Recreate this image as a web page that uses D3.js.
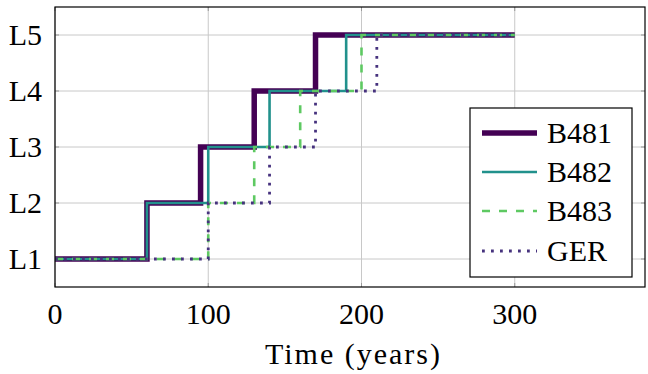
<!DOCTYPE html>
<html><head><meta charset="utf-8">
<script src="https://cdn.jsdelivr.net/npm/d3@7"></script>
</head><body style="margin:0;background:#fff">
<svg id="c" width="648" height="374" style="display:block" font-family="Liberation Serif, Times New Roman, Tinos, serif"></svg>
<script>
const levelLabels = ["L1","L2","L3","L4","L5"];
const xTicks = [0,100,200,300];
const seriesNames = ["B481","B482","B483","GER"];
const b481Times = [0,60,95,130,170,300];
const b482Times = [0,60,100,140,190,300];
const b483Times = [0,100,130,160,200,300];
const gerTimes  = [0,100,140,170,210,300];
const levelValues = [1,2,3,4,5,5];

const svg = d3.select("#c");
const L=55,R=645,T=7,B=287;
const FS=30;
const x = d3.scaleLinear().domain([0,385]).range([L,R]);
const y = d3.scaleLinear().domain([0.5,5.5]).range([B,T]);

svg.append("g").selectAll("line").data(xTicks).join("line")
  .attr("x1",d=>x(d)).attr("x2",d=>x(d)).attr("y1",T).attr("y2",B)
  .attr("stroke","#c8c8c8").attr("stroke-width",1);
svg.append("g").selectAll("line").data(levelLabels).join("line")
  .attr("x1",L).attr("x2",R).attr("y1",(d,i)=>y(i+1)).attr("y2",(d,i)=>y(i+1))
  .attr("stroke","#c8c8c8").attr("stroke-width",1);
const tk = svg.append("g").attr("stroke","#999").attr("stroke-width",1);
xTicks.forEach(d=>{tk.append("line").attr("x1",x(d)).attr("x2",x(d)).attr("y1",B).attr("y2",B-4);
  tk.append("line").attr("x1",x(d)).attr("x2",x(d)).attr("y1",T).attr("y2",T+4);});
levelLabels.forEach((d,i)=>{tk.append("line").attr("x1",L).attr("x2",L+4).attr("y1",y(i+1)).attr("y2",y(i+1));
  tk.append("line").attr("x1",R).attr("x2",R-4).attr("y1",y(i+1)).attr("y2",y(i+1));});

const styles = [
  {times:b481Times,color:"#440154",w:5.5,dash:null},
  {times:b482Times,color:"#21918c",w:2.6,dash:null},
  {times:b483Times,color:"#5ec962",w:2.6,dash:"8,9"},
  {times:gerTimes,color:"#46327e",w:2.8,dash:"2.8,6.2"}
];
const line = d3.line().x(d=>x(d[0])).y(d=>y(d[1])).curve(d3.curveStepAfter);
styles.forEach(s=>{
  const pts = s.times.map((t,i)=>[t,levelValues[i]]);
  svg.append("path").attr("d",line(pts)).attr("fill","none")
    .attr("stroke",s.color).attr("stroke-width",s.w)
    .attr("stroke-dasharray",s.dash).attr("stroke-linejoin","miter").attr("stroke-linecap","butt");
});

svg.append("rect").attr("x",L).attr("y",T).attr("width",R-L).attr("height",B-T)
  .attr("fill","none").attr("stroke","#000").attr("stroke-width",1.2);

svg.append("g").selectAll("text").data(xTicks).join("text")
  .attr("x",d=>x(d)).attr("y",324).attr("text-anchor","middle")
  .attr("font-size",FS).text(d=>d);
svg.append("g").selectAll("text").data(levelLabels).join("text")
  .attr("x",42).attr("y",(d,i)=>y(i+1)+10).attr("text-anchor","end")
  .attr("font-size",FS).text(d=>d);
svg.append("text").attr("x",265).attr("y",364)
  .attr("font-size",FS).attr("textLength",175).attr("lengthAdjust","spacing").text("Time (years)");

const lg = svg.append("g");
lg.append("rect").attr("x",470).attr("y",108).attr("width",162).attr("height",169)
  .attr("fill","#fff").attr("stroke","#000").attr("stroke-width",1.2);
const ly = [133,172,211,251];
styles.forEach((s,i)=>{
  lg.append("line").attr("x1",482).attr("x2",537).attr("y1",ly[i]).attr("y2",ly[i])
    .attr("stroke",s.color).attr("stroke-width",s.w).attr("stroke-dasharray",s.dash);
  lg.append("text").attr("x",547).attr("y",ly[i]+10)
    .attr("font-size",FS).text(seriesNames[i]);
});
</script></body></html>
